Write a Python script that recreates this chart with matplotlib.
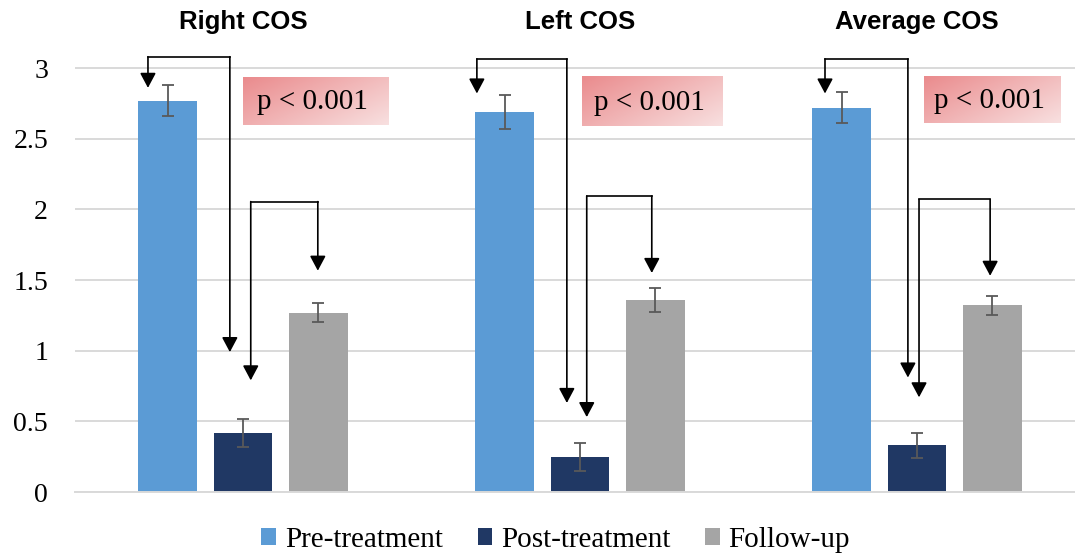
import numpy as np
import matplotlib.pyplot as plt
from matplotlib.colors import to_rgb

groups = ['Right COS', 'Left COS', 'Average COS']
series = ['Pre-treatment', 'Post-treatment', 'Follow-up']
pre = [2.77, 2.69, 2.72]
pre_err = [0.11, 0.12, 0.11]
post = [0.42, 0.25, 0.33]
post_err = [0.10, 0.10, 0.09]
follow = [1.27, 1.36, 1.32]
follow_err = [0.07, 0.085, 0.065]
p_label = 'p < 0.001'

# bracket arrows (pre -> post, post -> follow-up), x as offset from group centre
b1_top = [3.08, 3.065, 3.065]
b1_ltip = [2.86, 2.82, 2.82]
b1_rtip = [0.99, 0.63, 0.81]
b1_lx = [-0.282, -0.306, -0.273]
b1_rx = [-0.039, -0.039, -0.027]
b2_top = [2.055, 2.095, 2.07]
b2_ltip = [0.79, 0.53, 0.67]
b2_rtip = [1.566, 1.55, 1.53]
b2_lx = [0.023, 0.02, 0.006]
b2_rx = [0.222, 0.213, 0.217]
# p-value boxes
box_x0 = [0.0, 0.006, 0.021]
box_x1 = [0.433, 0.424, 0.427]
box_y0 = [2.60, 2.59, 2.61]
box_y1 = [2.937, 2.937, 2.937]

colors = ['#5B9BD5', '#203864', '#A5A5A5']
serif = 'Liberation Serif'

fig = plt.figure(figsize=(10.75, 5.59), dpi=100)
ax = fig.add_axes([74.5 / 1075, 67 / 559, 1 - 74.5 / 1075, (492 - 39.8) / 559])

x = np.arange(len(groups))
off = 0.224
w = 0.175
errkw = dict(ecolor='#595959', capsize=4, elinewidth=1.3, capthick=1.3)
ax.bar(x - off, pre, w, yerr=pre_err, color=colors[0], label=series[0], error_kw=errkw, zorder=2)
ax.bar(x, post, w, yerr=post_err, color=colors[1], label=series[1], error_kw=errkw, zorder=2)
ax.bar(x + off, follow, w, yerr=follow_err, color=colors[2], label=series[2], error_kw=errkw, zorder=2)

akw = dict(arrowstyle='-|>,head_length=0.6,head_width=0.32', color='black', lw=1.2,
           shrinkA=0, shrinkB=0, mutation_scale=15)

def bracket(xl, xr, top, ytl, ytr):
    ax.plot([xl, xr], [top, top], color='black', lw=1.2, zorder=3, solid_capstyle='projecting')
    ax.annotate('', xy=(xl, ytl), xytext=(xl, top), arrowprops=akw, zorder=3)
    ax.annotate('', xy=(xr, ytr), xytext=(xr, top), arrowprops=akw, zorder=3)

c1 = np.array(to_rgb('#EA8B8D'))
c2 = np.array(to_rgb('#F8E0E0'))
gx, gy = np.meshgrid(np.linspace(0, 1, 100), np.linspace(0, 1, 40))
t = (0.6 * gx + 0.4 * gy)[..., None]
grad = c1 * (1 - t) + c2 * t

for i in range(len(groups)):
    bracket(i + b1_lx[i], i + b1_rx[i], b1_top[i], b1_ltip[i], b1_rtip[i])
    bracket(i + b2_lx[i], i + b2_rx[i], b2_top[i], b2_ltip[i], b2_rtip[i])
    ax.imshow(grad, extent=[i + box_x0[i], i + box_x1[i], box_y0[i], box_y1[i]],
              origin='upper', aspect='auto', zorder=2)
    ax.text(i + (box_x0[i] + box_x1[i]) / 2 - 0.01, (box_y0[i] + box_y1[i]) / 2 - 0.01, p_label,
            ha='center', va='center', fontsize=21, family=serif, zorder=4)
    ax.text(i, 3.326, groups[i], ha='center', va='center', fontsize=18.5,
            fontweight='bold', family='Liberation Sans', clip_on=False)

ax.set_xlim(-0.5, (1075 - 74.5) / 337 - 0.5)
ax.set_ylim(0, 3.2)
ax.set_yticks(np.arange(0, 3.01, 0.5))
ax.set_yticklabels(['0', '0.5', '1', '1.5', '2', '2.5', '3'], family=serif, fontsize=20)
ax.set_xticks([])
ax.tick_params(axis='y', length=0, pad=19)
ax.grid(axis='y', color='#D9D9D9', lw=1.4, zorder=0)
ax.set_axisbelow(True)
for s in ['top', 'right', 'left']:
    ax.spines[s].set_visible(False)
ax.spines['bottom'].set_color('#D9D9D9')
ax.spines['bottom'].set_linewidth(1.4)

fig.legend(loc='center', bbox_to_anchor=(0.517, 0.034), ncol=3, frameon=False,
           prop={'family': serif, 'size': 21}, handlelength=0.5, handleheight=0.5,
           handletextpad=0.3, columnspacing=1.2)

fig.savefig('out.png', dpi=100)
